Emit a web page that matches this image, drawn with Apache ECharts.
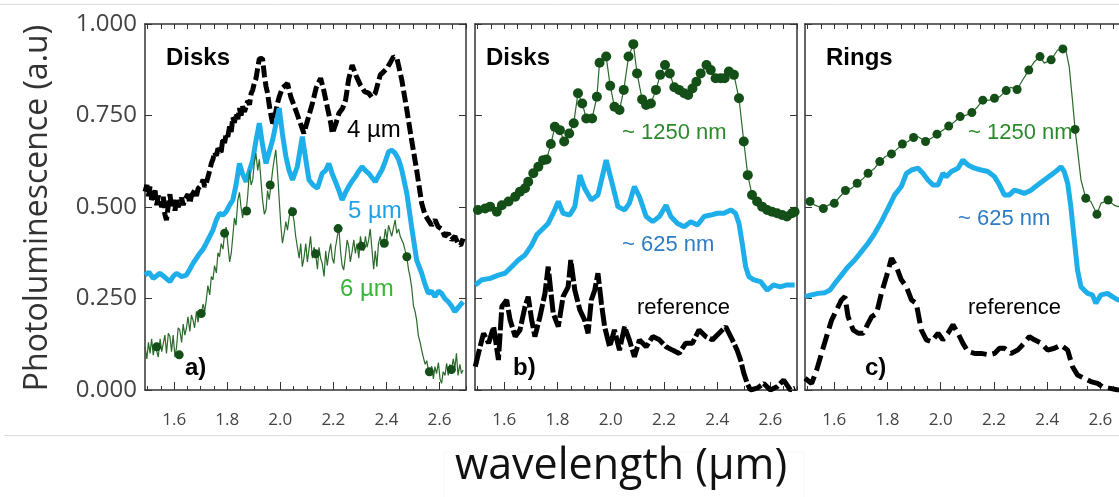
<!DOCTYPE html>
<html>
<head>
<meta charset="utf-8">
<script src="https://cdn.jsdelivr.net/npm/echarts@6.0.0/dist/echarts.min.js"></script>
<style>
  html, body { margin: 0; padding: 0; background: #fff; }
  #chart { width: 1119px; height: 497px; }
</style>
</head>
<body>
<div id="chart"></div>
<script>
// axis ranges and tick labels
const xMin = 1.49;
const xMax = 2.70;
const xTickLabels = [1.6, 1.8, 2.0, 2.2, 2.4, 2.6];
const yTickLabels = [0, 0.25, 0.5, 0.75, 1];

// panel a) disks, 4 / 5 / 6 um
const a4um = [[1.490,0.542],[1.497,0.560],[1.503,0.530],[1.509,0.556],[1.515,0.520],[1.521,0.528],[1.528,0.545],[1.534,0.505],[1.540,0.530],[1.546,0.519],[1.553,0.500],[1.559,0.528],[1.565,0.480],[1.571,0.464],[1.577,0.500],[1.584,0.535],[1.590,0.500],[1.596,0.519],[1.603,0.490],[1.609,0.525],[1.615,0.500],[1.621,0.501],[1.628,0.525],[1.634,0.505],[1.640,0.520],[1.646,0.515],[1.652,0.535],[1.659,0.510],[1.665,0.530],[1.671,0.528],[1.677,0.545],[1.684,0.530],[1.690,0.550],[1.696,0.546],[1.702,0.560],[1.709,0.575],[1.715,0.555],[1.721,0.565],[1.727,0.565],[1.734,0.600],[1.740,0.619],[1.746,0.630],[1.752,0.650],[1.759,0.640],[1.765,0.660],[1.771,0.665],[1.777,0.650],[1.784,0.690],[1.790,0.675],[1.796,0.700],[1.802,0.692],[1.809,0.720],[1.815,0.705],[1.821,0.745],[1.827,0.730],[1.833,0.756],[1.840,0.740],[1.846,0.770],[1.852,0.750],[1.858,0.775],[1.865,0.760],[1.871,0.774],[1.877,0.790],[1.884,0.780],[1.890,0.810],[1.896,0.820],[1.902,0.838],[1.908,0.850],[1.915,0.880],[1.921,0.905],[1.927,0.910],[1.933,0.906],[1.940,0.860],[1.946,0.830],[1.952,0.811],[1.958,0.780],[1.965,0.750],[1.971,0.729],[1.977,0.735],[1.983,0.760],[1.990,0.785],[1.996,0.801],[2.008,0.825],[2.027,0.838],[2.040,0.800],[2.058,0.765],[2.075,0.730],[2.089,0.701],[2.102,0.735],[2.121,0.783],[2.135,0.825],[2.152,0.852],[2.165,0.815],[2.177,0.774],[2.190,0.730],[2.196,0.701],[2.208,0.725],[2.221,0.756],[2.235,0.770],[2.246,0.792],[2.258,0.850],[2.271,0.888],[2.285,0.860],[2.302,0.833],[2.318,0.815],[2.333,0.811],[2.345,0.800],[2.358,0.811],[2.367,0.835],[2.377,0.861],[2.390,0.870],[2.402,0.879],[2.415,0.895],[2.427,0.911],[2.440,0.905],[2.458,0.847],[2.477,0.765],[2.495,0.683],[2.514,0.601],[2.533,0.510],[2.545,0.480],[2.558,0.464],[2.570,0.450],[2.583,0.465],[2.595,0.446],[2.608,0.440],[2.620,0.420],[2.633,0.428],[2.645,0.410],[2.658,0.420],[2.670,0.401],[2.680,0.395],[2.689,0.414]];

const a5um = [[1.490,0.314],[1.505,0.322],[1.521,0.305],[1.534,0.312],[1.546,0.319],[1.565,0.308],[1.584,0.296],[1.596,0.310],[1.609,0.319],[1.628,0.310],[1.646,0.314],[1.659,0.330],[1.671,0.346],[1.684,0.360],[1.696,0.373],[1.709,0.385],[1.721,0.401],[1.734,0.420],[1.746,0.437],[1.759,0.465],[1.771,0.483],[1.784,0.478],[1.796,0.487],[1.809,0.505],[1.821,0.519],[1.833,0.560],[1.846,0.619],[1.858,0.590],[1.871,0.569],[1.884,0.600],[1.896,0.628],[1.908,0.680],[1.921,0.729],[1.933,0.670],[1.946,0.619],[1.958,0.650],[1.971,0.683],[1.983,0.725],[1.996,0.770],[2.008,0.700],[2.021,0.638],[2.033,0.600],[2.046,0.574],[2.064,0.610],[2.083,0.692],[2.096,0.630],[2.108,0.574],[2.124,0.560],[2.140,0.551],[2.158,0.592],[2.171,0.600],[2.183,0.619],[2.196,0.590],[2.208,0.569],[2.221,0.545],[2.233,0.519],[2.246,0.540],[2.258,0.556],[2.270,0.570],[2.283,0.583],[2.296,0.598],[2.308,0.610],[2.320,0.600],[2.333,0.592],[2.346,0.580],[2.358,0.569],[2.370,0.585],[2.383,0.601],[2.396,0.625],[2.408,0.651],[2.420,0.655],[2.433,0.647],[2.446,0.630],[2.458,0.601],[2.477,0.537],[2.495,0.446],[2.514,0.355],[2.533,0.319],[2.545,0.290],[2.558,0.264],[2.570,0.270],[2.583,0.255],[2.596,0.270],[2.608,0.264],[2.620,0.250],[2.633,0.241],[2.645,0.230],[2.658,0.214],[2.670,0.225],[2.689,0.241]];

const a6um = [[1.490,0.118],[1.497,0.085],[1.503,0.130],[1.509,0.100],[1.515,0.140],[1.521,0.095],[1.528,0.125],[1.534,0.128],[1.540,0.090],[1.547,0.140],[1.553,0.105],[1.559,0.109],[1.565,0.150],[1.571,0.100],[1.578,0.155],[1.584,0.146],[1.590,0.105],[1.596,0.150],[1.603,0.090],[1.609,0.118],[1.615,0.170],[1.621,0.164],[1.628,0.130],[1.634,0.180],[1.640,0.150],[1.646,0.168],[1.652,0.200],[1.659,0.160],[1.665,0.205],[1.671,0.191],[1.677,0.170],[1.684,0.215],[1.690,0.185],[1.696,0.220],[1.702,0.209],[1.709,0.235],[1.715,0.215],[1.721,0.246],[1.727,0.285],[1.734,0.260],[1.740,0.310],[1.746,0.301],[1.752,0.340],[1.759,0.320],[1.765,0.375],[1.771,0.364],[1.777,0.400],[1.784,0.385],[1.790,0.428],[1.796,0.445],[1.802,0.400],[1.809,0.350],[1.815,0.373],[1.821,0.420],[1.827,0.470],[1.833,0.450],[1.840,0.519],[1.846,0.540],[1.852,0.500],[1.858,0.470],[1.865,0.500],[1.871,0.487],[1.877,0.530],[1.884,0.600],[1.890,0.560],[1.896,0.574],[1.902,0.620],[1.908,0.647],[1.915,0.600],[1.921,0.630],[1.927,0.574],[1.933,0.520],[1.940,0.480],[1.946,0.492],[1.952,0.545],[1.958,0.520],[1.965,0.560],[1.971,0.600],[1.977,0.630],[1.983,0.656],[1.990,0.590],[1.996,0.519],[2.002,0.450],[2.008,0.401],[2.015,0.430],[2.021,0.460],[2.027,0.437],[2.033,0.470],[2.040,0.500],[2.046,0.487],[2.052,0.460],[2.058,0.420],[2.064,0.392],[2.071,0.360],[2.077,0.400],[2.083,0.337],[2.089,0.360],[2.096,0.400],[2.102,0.350],[2.108,0.383],[2.114,0.420],[2.121,0.360],[2.127,0.390],[2.133,0.373],[2.140,0.330],[2.146,0.390],[2.152,0.360],[2.158,0.346],[2.165,0.310],[2.171,0.380],[2.177,0.340],[2.183,0.373],[2.190,0.400],[2.196,0.360],[2.202,0.346],[2.208,0.390],[2.215,0.420],[2.221,0.442],[2.227,0.380],[2.233,0.340],[2.239,0.328],[2.246,0.370],[2.252,0.410],[2.258,0.392],[2.264,0.350],[2.271,0.380],[2.277,0.410],[2.283,0.373],[2.289,0.400],[2.296,0.360],[2.302,0.420],[2.308,0.396],[2.314,0.380],[2.321,0.420],[2.327,0.390],[2.333,0.410],[2.339,0.440],[2.346,0.380],[2.352,0.330],[2.358,0.380],[2.364,0.337],[2.370,0.400],[2.377,0.420],[2.383,0.390],[2.389,0.401],[2.396,0.440],[2.402,0.410],[2.408,0.450],[2.414,0.455],[2.420,0.420],[2.427,0.445],[2.433,0.465],[2.439,0.428],[2.446,0.440],[2.452,0.420],[2.458,0.410],[2.464,0.400],[2.471,0.380],[2.477,0.364],[2.483,0.330],[2.489,0.310],[2.495,0.282],[2.502,0.230],[2.508,0.215],[2.514,0.191],[2.520,0.150],[2.527,0.130],[2.533,0.109],[2.539,0.090],[2.546,0.070],[2.552,0.080],[2.558,0.055],[2.564,0.040],[2.571,0.065],[2.577,0.030],[2.583,0.064],[2.589,0.045],[2.596,0.075],[2.602,0.030],[2.608,0.018],[2.614,0.050],[2.621,0.040],[2.627,0.073],[2.633,0.040],[2.639,0.070],[2.645,0.055],[2.652,0.085],[2.658,0.060],[2.664,0.100],[2.670,0.040],[2.677,0.070],[2.683,0.045],[2.689,0.055]];

const a6umDots = [[1.534,0.118],[1.619,0.096],[1.702,0.209],[1.790,0.428],[1.873,0.489],[1.962,0.560],[2.046,0.487],[2.133,0.372],[2.218,0.441],[2.306,0.393],[2.392,0.401],[2.477,0.364],[2.562,0.050],[2.645,0.056]];

// panel b) disks, ~1250 nm / ~625 nm / reference
const b1250 = [[1.501,0.492],[1.528,0.496],[1.547,0.501],[1.572,0.487],[1.591,0.505],[1.616,0.515],[1.641,0.528],[1.659,0.542],[1.678,0.551],[1.690,0.569],[1.709,0.592],[1.728,0.610],[1.746,0.628],[1.759,0.630],[1.775,0.672],[1.790,0.719],[1.809,0.710],[1.825,0.679],[1.844,0.701],[1.861,0.729],[1.877,0.811],[1.893,0.783],[1.908,0.742],[1.930,0.742],[1.948,0.801],[1.958,0.894],[1.983,0.911],[1.998,0.831],[2.014,0.774],[2.033,0.765],[2.049,0.820],[2.067,0.911],[2.085,0.945],[2.099,0.865],[2.118,0.794],[2.133,0.779],[2.151,0.783],[2.170,0.820],[2.186,0.861],[2.204,0.888],[2.222,0.865],[2.239,0.827],[2.257,0.820],[2.276,0.811],[2.291,0.806],[2.307,0.824],[2.322,0.842],[2.338,0.865],[2.360,0.888],[2.376,0.874],[2.394,0.852],[2.413,0.852],[2.428,0.852],[2.444,0.870],[2.463,0.861],[2.482,0.797],[2.500,0.679],[2.515,0.587],[2.531,0.533],[2.550,0.515],[2.569,0.501],[2.588,0.492],[2.606,0.487],[2.625,0.483],[2.644,0.478],[2.662,0.474],[2.681,0.483],[2.691,0.487]];

const b625 = [[1.491,0.287],[1.516,0.301],[1.547,0.305],[1.578,0.314],[1.603,0.319],[1.628,0.337],[1.653,0.355],[1.678,0.369],[1.703,0.396],[1.722,0.424],[1.740,0.437],[1.765,0.455],[1.784,0.483],[1.803,0.515],[1.821,0.483],[1.846,0.478],[1.865,0.501],[1.884,0.587],[1.902,0.551],[1.927,0.519],[1.952,0.533],[1.983,0.628],[2.002,0.574],[2.027,0.501],[2.052,0.492],[2.070,0.510],[2.089,0.556],[2.108,0.528],[2.133,0.474],[2.158,0.460],[2.183,0.474],[2.208,0.505],[2.226,0.474],[2.251,0.455],[2.276,0.446],[2.301,0.460],[2.326,0.451],[2.351,0.474],[2.376,0.478],[2.401,0.483],[2.426,0.483],[2.451,0.492],[2.469,0.483],[2.482,0.455],[2.494,0.401],[2.507,0.337],[2.519,0.310],[2.538,0.301],[2.563,0.296],[2.588,0.273],[2.612,0.287],[2.637,0.282],[2.662,0.287],[2.691,0.287]];

const bReference = [[1.491,0.064],[1.503,0.100],[1.522,0.155],[1.541,0.128],[1.560,0.173],[1.578,0.082],[1.591,0.228],[1.609,0.246],[1.622,0.191],[1.641,0.146],[1.659,0.164],[1.678,0.228],[1.690,0.255],[1.703,0.191],[1.715,0.146],[1.734,0.200],[1.753,0.264],[1.765,0.337],[1.784,0.209],[1.803,0.173],[1.821,0.255],[1.840,0.282],[1.850,0.355],[1.865,0.273],[1.884,0.219],[1.902,0.191],[1.915,0.155],[1.927,0.246],[1.940,0.273],[1.952,0.319],[1.965,0.237],[1.977,0.173],[1.996,0.118],[2.014,0.164],[2.033,0.109],[2.052,0.173],[2.070,0.137],[2.089,0.091],[2.108,0.137],[2.133,0.118],[2.158,0.146],[2.183,0.137],[2.208,0.118],[2.232,0.109],[2.257,0.100],[2.282,0.128],[2.307,0.128],[2.332,0.164],[2.357,0.146],[2.382,0.137],[2.407,0.155],[2.432,0.173],[2.457,0.137],[2.475,0.109],[2.488,0.082],[2.500,0.046],[2.513,0.018],[2.525,0.000],[2.550,0.005],[2.575,0.018],[2.600,0.000],[2.625,0.009],[2.650,0.027],[2.675,0.000],[2.693,0.005]];

// panel c) rings, ~1250 nm / ~625 nm / reference
const c1250 = [[1.490,0.519],[1.509,0.515],[1.527,0.505],[1.559,0.496],[1.577,0.505],[1.600,0.510],[1.621,0.528],[1.642,0.545],[1.665,0.551],[1.686,0.565],[1.709,0.578],[1.727,0.592],[1.752,0.606],[1.771,0.624],[1.792,0.638],[1.815,0.645],[1.833,0.656],[1.856,0.672],[1.877,0.679],[1.898,0.690],[1.915,0.692],[1.943,0.679],[1.965,0.688],[1.986,0.699],[2.008,0.710],[2.030,0.721],[2.052,0.733],[2.073,0.747],[2.096,0.751],[2.117,0.758],[2.139,0.774],[2.158,0.792],[2.183,0.792],[2.202,0.797],[2.221,0.801],[2.246,0.818],[2.264,0.827],[2.287,0.821],[2.308,0.847],[2.331,0.874],[2.352,0.897],[2.373,0.911],[2.389,0.893],[2.415,0.902],[2.439,0.929],[2.459,0.932],[2.470,0.929],[2.483,0.883],[2.495,0.792],[2.505,0.712],[2.514,0.656],[2.527,0.574],[2.545,0.524],[2.564,0.515],[2.587,0.480],[2.602,0.510],[2.629,0.519],[2.651,0.505],[2.666,0.501],[2.690,0.505]];

const c1250Dots = [[1.509,0.515],[1.559,0.496],[1.600,0.510],[1.642,0.545],[1.686,0.565],[1.727,0.592],[1.771,0.624],[1.815,0.645],[1.856,0.672],[1.898,0.690],[1.943,0.679],[1.986,0.699],[2.030,0.721],[2.073,0.747],[2.117,0.758],[2.158,0.792],[2.202,0.797],[2.246,0.818],[2.287,0.821],[2.331,0.874],[2.373,0.911],[2.415,0.902],[2.459,0.932],[2.505,0.712],[2.545,0.524],[2.587,0.480],[2.629,0.519]];

const c625 = [[1.490,0.255],[1.515,0.260],[1.540,0.264],[1.565,0.266],[1.584,0.273],[1.602,0.291],[1.627,0.314],[1.652,0.337],[1.677,0.355],[1.702,0.378],[1.727,0.401],[1.752,0.428],[1.777,0.460],[1.802,0.496],[1.827,0.533],[1.852,0.556],[1.871,0.592],[1.890,0.601],[1.915,0.606],[1.933,0.592],[1.952,0.574],[1.971,0.560],[1.990,0.560],[2.008,0.592],[2.021,0.583],[2.040,0.597],[2.065,0.606],[2.083,0.628],[2.102,0.615],[2.127,0.606],[2.152,0.601],[2.177,0.597],[2.202,0.583],[2.221,0.560],[2.239,0.533],[2.258,0.533],[2.277,0.546],[2.296,0.542],[2.314,0.537],[2.339,0.546],[2.364,0.560],[2.389,0.574],[2.414,0.587],[2.439,0.601],[2.452,0.610],[2.464,0.597],[2.477,0.565],[2.489,0.501],[2.502,0.410],[2.514,0.328],[2.527,0.282],[2.539,0.273],[2.552,0.264],[2.570,0.260],[2.583,0.237],[2.602,0.260],[2.627,0.264],[2.645,0.255],[2.666,0.246],[2.690,0.250]];

const cReference = [[1.490,0.032],[1.515,0.018],[1.534,0.055],[1.552,0.100],[1.571,0.146],[1.590,0.191],[1.609,0.219],[1.627,0.246],[1.640,0.255],[1.652,0.200],[1.671,0.164],[1.690,0.155],[1.709,0.155],[1.721,0.173],[1.740,0.200],[1.759,0.209],[1.777,0.264],[1.796,0.310],[1.815,0.360],[1.833,0.337],[1.852,0.301],[1.871,0.282],[1.890,0.246],[1.908,0.237],[1.927,0.164],[1.946,0.137],[1.965,0.132],[1.990,0.155],[2.008,0.137],[2.027,0.155],[2.046,0.178],[2.065,0.155],[2.083,0.128],[2.102,0.105],[2.127,0.100],[2.152,0.100],[2.183,0.096],[2.202,0.100],[2.221,0.114],[2.239,0.114],[2.264,0.100],[2.289,0.109],[2.314,0.128],[2.333,0.146],[2.352,0.137],[2.377,0.128],[2.402,0.109],[2.427,0.114],[2.452,0.123],[2.477,0.109],[2.495,0.064],[2.514,0.041],[2.539,0.032],[2.564,0.023],[2.589,0.018],[2.608,0.009],[2.633,0.005],[2.666,0.000],[2.690,0.000]];

// minor tick positions every 0.05
const minorTicks = [];
for (let v = 1.5; v <= 2.7001; v += 0.05) minorTicks.push(+v.toFixed(2));

const BLACK = '#000000';
const BLUE = '#1eaeea';
const GREEN = '#2a6a2a';
const DOT = '#134f17';
const AXIS = '#333333';
const LABEL_FONT = '"Open Sans", "DejaVu Sans", sans-serif';
const TEXT_FONT = '"Liberation Sans", Arial, sans-serif';

const panelLefts = [145, 475, 805];
const panelWidths = [321, 322, 322];
const gridTop = 24;
const gridHeight = 366;

const grid = [];
const xAxis = [];
const yAxis = [];
panelLefts.forEach((left, i) => {
    grid.push({ left: left, top: gridTop, width: panelWidths[i], height: gridHeight, containLabel: false, outerBoundsMode: 'none' });
    const base = {
        type: 'value', gridIndex: i, min: xMin, max: xMax,
        splitLine: { show: false },
        axisLine: { show: true, onZero: false, lineStyle: { color: AXIS, width: 1.5 } },
    };
    xAxis.push(Object.assign({}, base, {
        position: 'bottom',
        axisTick: { inside: true, length: 4, customValues: minorTicks, lineStyle: { color: AXIS } },
        axisLabel: {
            customValues: xTickLabels, formatter: (v) => v.toFixed(1), margin: 22,
            fontFamily: LABEL_FONT, fontSize: 17, color: '#444',
        },
    }));
    xAxis.push(Object.assign({}, base, {
        position: 'bottom',
        axisLine: { show: false },
        axisTick: { inside: true, length: 8, customValues: xTickLabels, lineStyle: { color: AXIS } },
        axisLabel: { show: false },
    }));
    xAxis.push(Object.assign({}, base, {
        position: 'top',
        axisTick: { inside: true, length: 5, customValues: minorTicks, lineStyle: { color: AXIS } },
        axisLabel: { show: false },
    }));
    const yBase = {
        type: 'value', gridIndex: i, min: 0, max: 1, interval: 0.25,
        splitLine: { show: false },
        axisLine: { show: true, onZero: false, lineStyle: { color: AXIS, width: 1.5 } },
        axisTick: { inside: true, length: 7, lineStyle: { color: AXIS } },
    };
    yAxis.push(Object.assign({}, yBase, {
        position: 'left',
        axisLabel: {
            show: i === 0, customValues: yTickLabels, formatter: (v) => v.toFixed(3), margin: 8,
            fontFamily: LABEL_FONT, fontSize: 24, color: '#444',
        },
    }));
    yAxis.push(Object.assign({}, yBase, { position: 'right', axisLabel: { show: false } }));
});

function line(data, panel, color, width, dash, z) {
    return {
        type: 'line', xAxisIndex: panel * 3, yAxisIndex: panel * 2, data: data,
        showSymbol: false, symbol: 'none', clip: true, z: z,
        lineStyle: { color: color, width: width, type: dash || 'solid' },
    };
}
function dots(data, panel) {
    return {
        type: 'scatter', xAxisIndex: panel * 3, yAxisIndex: panel * 2, data: data,
        symbol: 'circle', symbolSize: 9, clip: true, z: 5,
        itemStyle: { color: DOT, opacity: 1 },
    };
}

const series = [
    line(a4um, 0, BLACK, 5, [12, 4], 2),
    line(a5um, 0, BLUE, 5, null, 3),
    line(a6um, 0, GREEN, 1.2, null, 4),
    dots(a6umDots, 0),
    line(bReference, 1, BLACK, 5, [18, 3], 2),
    line(b625, 1, BLUE, 5, null, 3),
    Object.assign(line(b1250, 1, GREEN, 1.2, null, 4), {
        showSymbol: true, showAllSymbol: true, symbol: 'circle', symbolSize: 10,
        itemStyle: { color: DOT, opacity: 1 },
    }),
    line(cReference, 2, BLACK, 5, [16, 6], 2),
    line(c625, 2, BLUE, 5, null, 3),
    line(c1250, 2, GREEN, 1.2, null, 4),
    dots(c1250Dots, 2),
];

function label(text, x, y, color, size, bold) {
    return {
        type: 'text', x: x, y: y, z: 100, silent: true,
        style: {
            text: text, fill: color, font: (bold ? 'bold ' : '') + size + 'px ' + TEXT_FONT,
            align: 'left', verticalAlign: 'middle', textAlign: 'left', textVerticalAlign: 'middle',
        },
    };
}

const graphic = [
    { type: 'line', shape: { x1: 0, y1: 4.5, x2: 1119, y2: 4.5 }, style: { stroke: '#dcdcdc', lineWidth: 1 }, silent: true },
    { type: 'line', shape: { x1: 4, y1: 435.5, x2: 1119, y2: 435.5 }, style: { stroke: '#dcdcdc', lineWidth: 1 }, silent: true },
    { type: 'rect', shape: { x: 444, y: 452, width: 360, height: 50 }, style: { fill: '#fff', stroke: '#f7f7f7' }, silent: true },
    {
        type: 'text', x: 38, y: 208, rotation: Math.PI / 2, silent: true,
        style: {
            text: 'Photoluminescence (a.u)', fill: '#333', font: '32px ' + LABEL_FONT,
            align: 'center', verticalAlign: 'middle', textAlign: 'center', textVerticalAlign: 'middle',
        },
    },
    {
        type: 'text', x: 621, y: 467, silent: true,
        style: {
            text: 'wavelength (µm)', fill: '#111', font: '43px ' + LABEL_FONT,
            align: 'center', verticalAlign: 'middle', textAlign: 'center', textVerticalAlign: 'middle',
        },
    },
    label('Disks', 166, 58, '#000', 24, true),
    label('4 µm', 347, 130, '#000', 24, false),
    label('5 µm', 348, 211, '#1fa3e6', 24, false),
    label('6 µm', 340, 289, '#39b539', 24, false),
    label('a)', 185, 368, '#000', 24, true),
    label('Disks', 486, 58, '#000', 24, true),
    label('~ 1250 nm', 622, 133, '#2b8a2b', 22, false),
    label('~ 625 nm', 622, 245, '#2e7cc4', 22, false),
    label('reference', 637, 308, '#000', 22, false),
    label('b)', 513, 368, '#000', 24, true),
    label('Rings', 826, 58, '#000', 24, true),
    label('~ 1250 nm', 968, 133, '#2b8a2b', 22, false),
    label('~ 625 nm', 958, 219, '#2e7cc4', 22, false),
    label('reference', 968, 308, '#000', 22, false),
    label('c)', 865, 368, '#000', 24, true),
];

const chart = echarts.init(document.getElementById('chart'), null, { renderer: 'canvas' });
chart.setOption({
    animation: false,
    backgroundColor: '#ffffff',
    grid: grid,
    xAxis: xAxis,
    yAxis: yAxis,
    series: series,
    graphic: graphic,
});
</script>
</body>
</html>
